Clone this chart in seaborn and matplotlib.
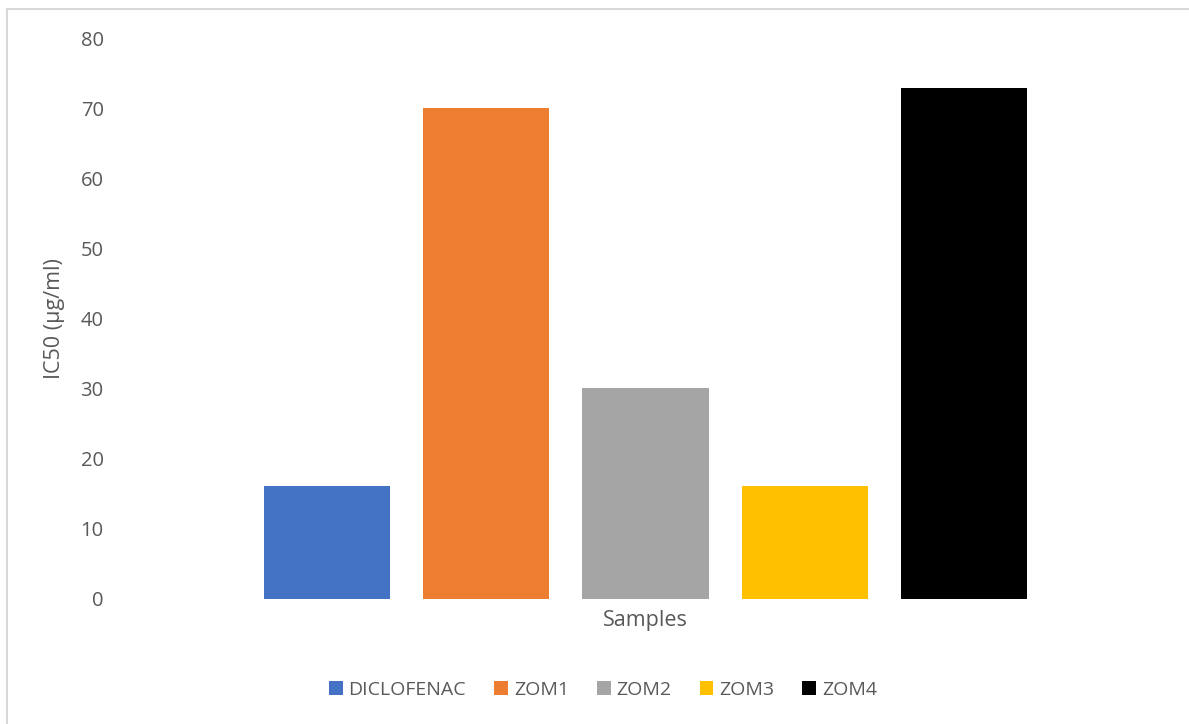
import matplotlib
matplotlib.use("Agg")
import matplotlib.pyplot as plt
from matplotlib.patches import Patch
from matplotlib.lines import Line2D
import seaborn as sns
import pandas as pd

samples = ["DICLOFENAC", "ZOM1", "ZOM2", "ZOM3", "ZOM4"]
ic50 = [16.15, 70.15, 30.15, 16.15, 73.0]
colors = ["#4472C4", "#ED7D31", "#A5A5A5", "#FFC000", "#000000"]
yticks = [0, 10, 20, 30, 40, 50, 60, 70, 80]

sns.set_theme(style="white")
plt.rcParams['font.family'] = ['Open Sans', 'DejaVu Sans']
txt = "#595959"

W, H = 1189, 724
fig = plt.figure(figsize=(W / 100, H / 100), dpi=100)
L, R, B, T = 112, 1179, 599, 39
ax = fig.add_axes([L / W, 1 - B / H, (R - L) / W, (B - T) / H])

df = pd.DataFrame({"Sample": samples, "IC50": ic50})
sns.barplot(data=df, x="Sample", y="IC50", hue="Sample", palette=colors,
            width=126 / 159, ax=ax, legend=False, saturation=1, linewidth=0)

ax.set_xlim(-(327 - L) / 159, 4 + (R - 964) / 159)
ax.set_ylim(0, 80)
ax.set_yticks(yticks)
ax.set_yticklabels([str(v) for v in yticks], fontsize=14.5, color=txt)
ax.set_xticks([])
ax.tick_params(axis="y", length=0, pad=6)
for s in ax.spines.values():
    s.set_visible(False)
ax.set_xlabel("Samples", fontsize=15.5, color=txt, labelpad=8)
ax.set_ylabel("IC50 (µg/ml)", fontsize=15.5, color=txt, labelpad=11)

handles = [Patch(facecolor=c, edgecolor="none") for c in colors]
fig.legend(handles, samples, loc="center", bbox_to_anchor=(603 / W, 1 - 690 / H),
           ncol=5, frameon=False, fontsize=14, labelcolor=txt,
           handlelength=0.7, handleheight=0.7, handletextpad=0.3,
           columnspacing=1.45)

# chart border (left and top visible)
fig.add_artist(Line2D([7 / W, 7 / W], [0, 1 - 9 / H], color="#D9D9D9", lw=1.5,
                      transform=fig.transFigure))
fig.add_artist(Line2D([7 / W, 1], [1 - 9 / H, 1 - 9 / H], color="#D9D9D9", lw=1.5,
                      transform=fig.transFigure))

fig.savefig("out.png", dpi=100, facecolor="white")
